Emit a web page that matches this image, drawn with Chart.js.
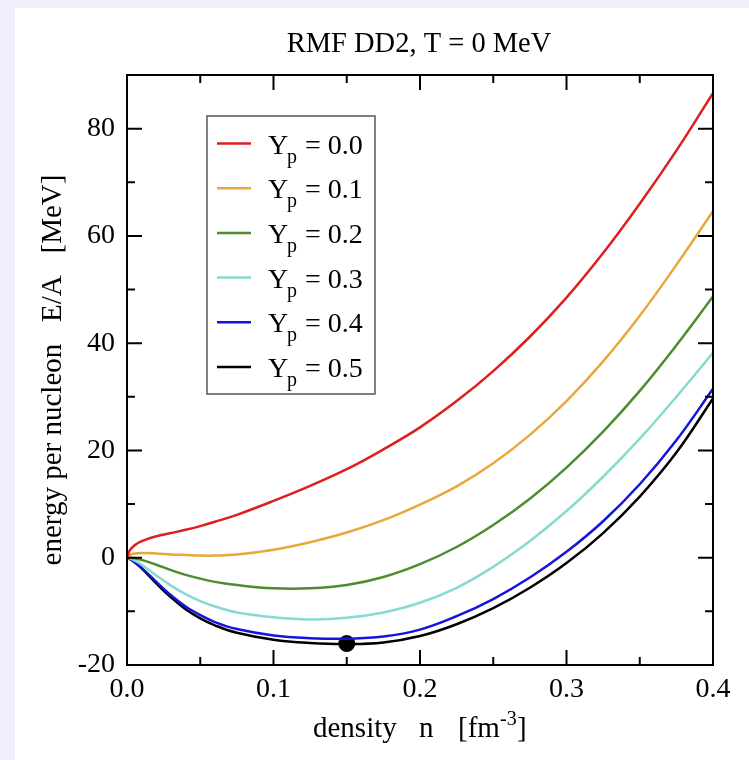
<!DOCTYPE html>
<html>
<head>
<meta charset="utf-8">
<script src="https://cdn.jsdelivr.net/npm/chart.js@4.4.0/dist/chart.umd.min.js"></script>
<style>
  html, body { margin: 0; padding: 0; background: #efeffb; }
  #panel { position: absolute; left: 15px; top: 8px; width: 734px; height: 752px; background: #fff; }
  #c { position: absolute; left: 0; top: 0; }
</style>
</head>
<body>
<div id="panel"></div>
<canvas id="c" width="749" height="760"></canvas>
<script>
// density n [fm^-3]
const density = [0, 0.002, 0.005, 0.01, 0.02, 0.03, 0.04, 0.05, 0.06, 0.075, 0.1, 0.125, 0.15, 0.175, 0.2, 0.225, 0.25, 0.275, 0.3, 0.325, 0.35, 0.375, 0.4];
// energy per nucleon E/A [MeV] for each proton fraction
const yp00 = [0, 1.4, 2.3, 3.1, 4.0, 4.6, 5.2, 5.9, 6.7, 8.0, 10.6, 13.4, 16.5, 20.2, 24.3, 29.2, 34.8, 41.2, 48.5, 56.8, 66.0, 75.9, 86.6];
const yp01 = [0, 0.5, 0.8, 0.9, 0.8, 0.6, 0.5, 0.4, 0.4, 0.6, 1.5, 2.9, 4.7, 7.0, 9.9, 13.3, 17.6, 22.9, 29.2, 36.6, 45.1, 54.6, 64.6];
const yp02 = [0, 0.0, -0.1, -0.4, -1.3, -2.3, -3.2, -3.9, -4.5, -5.1, -5.7, -5.7, -5.1, -3.6, -1.2, 2.0, 6.1, 11.0, 16.8, 23.5, 31.1, 39.6, 48.7];
const yp03 = [0, -0.1, -0.5, -1.3, -3.3, -5.2, -6.8, -8.1, -9.1, -10.2, -11.1, -11.5, -11.2, -10.2, -8.4, -5.6, -1.7, 3.1, 8.7, 15.1, 22.2, 30.0, 38.2];
const yp04 = [0, -0.2, -0.8, -1.9, -4.5, -7.0, -9.1, -10.7, -12.0, -13.3, -14.5, -15.0, -15.1, -14.7, -13.4, -10.9, -7.7, -3.7, 1.1, 6.8, 13.7, 21.9, 31.5];
const yp05 = [0, -0.2, -0.8, -2.0, -4.8, -7.4, -9.6, -11.3, -12.6, -14.0, -15.3, -15.9, -16.1, -15.8, -14.6, -12.4, -9.4, -5.6, -1.0, 4.6, 11.4, 19.6, 29.7];
const ypLabels = ['0.0', '0.1', '0.2', '0.3', '0.4', '0.5'];
const ypColors = ['#dd1f1f', '#e8a83c', '#4e8c2e', '#86dacf', '#1414dd', '#000000'];
// saturation point
const satDensity = [0.15];
const satEnergy = [-16];
// axis ticks
const xTicks = [0, 0.1, 0.2, 0.3, 0.4];
const xMinor = [0.05, 0.15, 0.25, 0.35];
const yTicks = [-20, 0, 20, 40, 60, 80];
const yMinor = [-10, 10, 30, 50, 70];

const serif = 'Liberation Serif, Times New Roman, serif';
const series = [yp00, yp01, yp02, yp03, yp04, yp05];

const datasets = series.map((vals, i) => ({
  label: 'Yp = ' + ypLabels[i],
  data: density.map((n, k) => ({ x: n, y: vals[k] })),
  borderColor: ypColors[i],
  borderWidth: 2.5,
  pointRadius: 0,
  fill: false,
  tension: 0.4
}));
datasets.push({
  type: 'scatter',
  label: 'saturation',
  data: satDensity.map((n, k) => ({ x: n, y: satEnergy[k] })),
  backgroundColor: '#000',
  borderColor: '#000',
  pointRadius: 8,
  clip: false
});

const decor = {
  id: 'decor',
  afterDraw(chart) {
    const ctx = chart.ctx;
    const a = chart.chartArea;
    const xs = chart.scales.x, ys = chart.scales.y;
    ctx.save();
    ctx.strokeStyle = '#000';
    ctx.lineWidth = 2;
    ctx.strokeRect(a.left, a.top, a.right - a.left, a.bottom - a.top);
    // inward ticks on all four sides
    const tick = (vals, len) => {
      vals.forEach(v => {
        const px = xs.getPixelForValue(v);
        ctx.beginPath();
        ctx.moveTo(px, a.bottom); ctx.lineTo(px, a.bottom - len);
        ctx.moveTo(px, a.top); ctx.lineTo(px, a.top + len);
        ctx.stroke();
      });
    };
    const ytick = (vals, len) => {
      vals.forEach(v => {
        const py = ys.getPixelForValue(v);
        ctx.beginPath();
        ctx.moveTo(a.left, py); ctx.lineTo(a.left + len, py);
        ctx.moveTo(a.right, py); ctx.lineTo(a.right - len, py);
        ctx.stroke();
      });
    };
    tick(xTicks, 15); tick(xMinor, 8);
    ytick(yTicks, 15); ytick(yMinor, 8);

    ctx.fillStyle = '#000';
    ctx.textBaseline = 'alphabetic';
    // title
    ctx.font = '28.5px ' + serif;
    ctx.textAlign = 'center';
    ctx.fillText('RMF DD2, T = 0 MeV', 419, 52);
    // x axis title
    ctx.textAlign = 'left';
    ctx.font = '29px ' + serif;
    ctx.fillText('density', 313, 737);
    ctx.fillText('n', 419, 737);
    ctx.fillText('[fm', 458, 737);
    ctx.fillText(']', 517, 737);
    ctx.font = '20px ' + serif;
    ctx.fillText('-3', 500, 725);
    // y axis title
    ctx.save();
    ctx.translate(61, (a.top + a.bottom) / 2);
    ctx.rotate(-Math.PI / 2);
    ctx.textAlign = 'center';
    ctx.font = '29px ' + serif;
    ctx.fillText('energy per nucleon   E/A   [MeV]', 0, 0);
    ctx.restore();

    // legend box
    ctx.textAlign = 'left';
    ctx.fillStyle = '#fff';
    ctx.fillRect(207, 116, 168, 278);
    ctx.strokeStyle = '#555';
    ctx.lineWidth = 1.5;
    ctx.strokeRect(207, 116, 168, 278);
    ypLabels.forEach((lab, i) => {
      const ly = 143.5 + i * 44.7;
      ctx.strokeStyle = ypColors[i];
      ctx.lineWidth = 2.5;
      ctx.beginPath();
      ctx.moveTo(217, ly); ctx.lineTo(251, ly);
      ctx.stroke();
      ctx.fillStyle = '#000';
      ctx.font = '28px ' + serif;
      ctx.fillText('Y', 268, ly + 10);
      ctx.font = '20px ' + serif;
      ctx.fillText('p', 287, ly + 19);
      ctx.font = '28px ' + serif;
      ctx.fillText('= ' + lab, 305, ly + 10);
    });
    ctx.restore();
  }
};

new Chart(document.getElementById('c'), {
  type: 'line',
  data: { datasets },
  options: {
    responsive: false,
    devicePixelRatio: 1,
    animation: false,
    layout: { padding: { left: 0, top: 75, right: 36, bottom: 0 } },
    plugins: { legend: { display: false }, tooltip: { enabled: false } },
    scales: {
      x: {
        type: 'linear',
        min: 0, max: 0.4,
        afterFit: s => { s.height = 95; },
        afterBuildTicks: s => { s.ticks = xTicks.map(v => ({ value: v })); },
        grid: { display: false, drawTicks: false },
        border: { display: false },
        ticks: {
          autoSkip: false, maxRotation: 0, padding: 8, color: '#000',
          font: { family: serif, size: 28 },
          callback: v => Number(v).toFixed(1)
        }
      },
      y: {
        type: 'linear',
        min: -20, max: 90,
        afterFit: s => { s.width = 127; },
        afterBuildTicks: s => { s.ticks = yTicks.map(v => ({ value: v })); },
        grid: { display: false, drawTicks: false },
        border: { display: false },
        ticks: {
          autoSkip: false, padding: 12, color: '#000',
          font: { family: serif, size: 28 },
          callback: v => String(v)
        }
      }
    }
  },
  plugins: [decor]
});
</script>
</body>
</html>
